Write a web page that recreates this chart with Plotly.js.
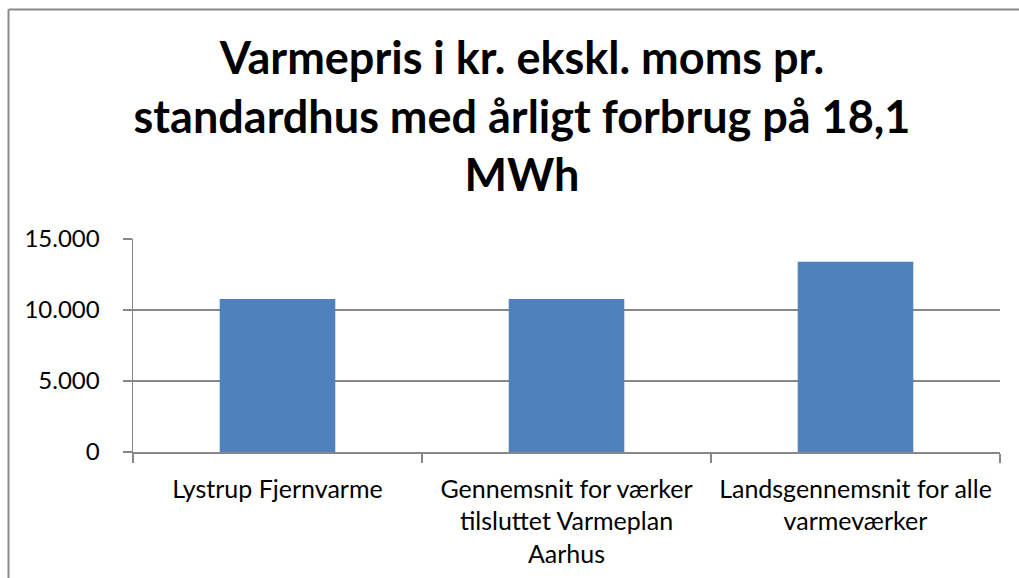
<!DOCTYPE html>
<html>
<head>
<meta charset="utf-8">
<script src="https://cdn.plot.ly/plotly-3.0.1.min.js"></script>
<style>
  html, body { margin: 0; padding: 0; background: #fff; }
  #chart { width: 1019px; height: 578px; }
</style>
</head>
<body>
<div id="chart"></div>
<script>
const categories = [
  "Lystrup Fjernvarme",
  "Gennemsnit for værker<br>tilsluttet Varmeplan<br>Aarhus",
  "Landsgennemsnit for alle<br>varmeværker"
];
const values = [10780, 10780, 13400];
const yTickVals = [0, 5000, 10000, 15000];
const yTickText = ["0", "5.000", "10.000", "15.000"];
const titleText = "Varmepris i kr. ekskl. moms pr.<br>standardhus med årligt forbrug på 18,1<br>MWh";

const W = 1019, H = 578;
const M = { l: 133, r: 19, t: 239, b: 126 };
const pw = W - M.l - M.r, ph = H - M.t - M.b;
const px2x = p => (p - M.l) / pw;
const py2y = p => (H - M.b - p) / ph;

const font = "Lato, 'Liberation Sans', sans-serif";
const gray = "#878787";

const data = [{
  type: "bar",
  x: categories,
  y: values,
  marker: { color: "#4F81BD" },
  width: 0.4,
  hoverinfo: "skip"
}];

const layout = {
  width: W, height: H,
  margin: M,
  paper_bgcolor: "#fff",
  plot_bgcolor: "#fff",
  showlegend: false,
  font: { family: font, color: "#000", size: 24 },
  title: {
    text: titleText,
    font: { family: font, size: 45, color: "#000", weight: "bold" },
    x: 522 / W, xref: "container", xanchor: "center",
    y: 1 - 74 / H, yref: "container", yanchor: "top"
  },
  xaxis: {
    type: "category",
    showline: true, linecolor: gray, linewidth: 1.5,
    ticks: "outside", tickson: "boundaries", ticklen: 9, tickcolor: gray, tickwidth: 1.5,
    showgrid: false,
    tickfont: { family: font, size: 25, color: "#000" },
    ticklabelstandoff: 14,
    fixedrange: true
  },
  yaxis: {
    range: [0, 15000],
    tickvals: yTickVals, ticktext: yTickText,
    showline: true, linecolor: gray, linewidth: 1.5,
    ticks: "outside", ticklen: 9, tickcolor: gray, tickwidth: 1.5,
    showgrid: true, gridcolor: gray, gridwidth: 1.5,
    zeroline: false,
    tickfont: { family: font, size: 24, color: "#000" },
    ticklabelstandoff: 18,
    fixedrange: true
  },
  shapes: [
    { type: "line", xref: "paper", yref: "paper",
      x0: px2x(8.5), x1: px2x(W + 5), y0: py2y(9.5), y1: py2y(9.5),
      line: { color: "#8a8a8a", width: 2 } },
    { type: "line", xref: "paper", yref: "paper",
      x0: px2x(8.5), x1: px2x(8.5), y0: py2y(9.5), y1: py2y(H + 5),
      line: { color: "#8a8a8a", width: 2 } }
  ]
};

Plotly.newPlot("chart", data, layout, { displayModeBar: false, staticPlot: true });
</script>
</body>
</html>
